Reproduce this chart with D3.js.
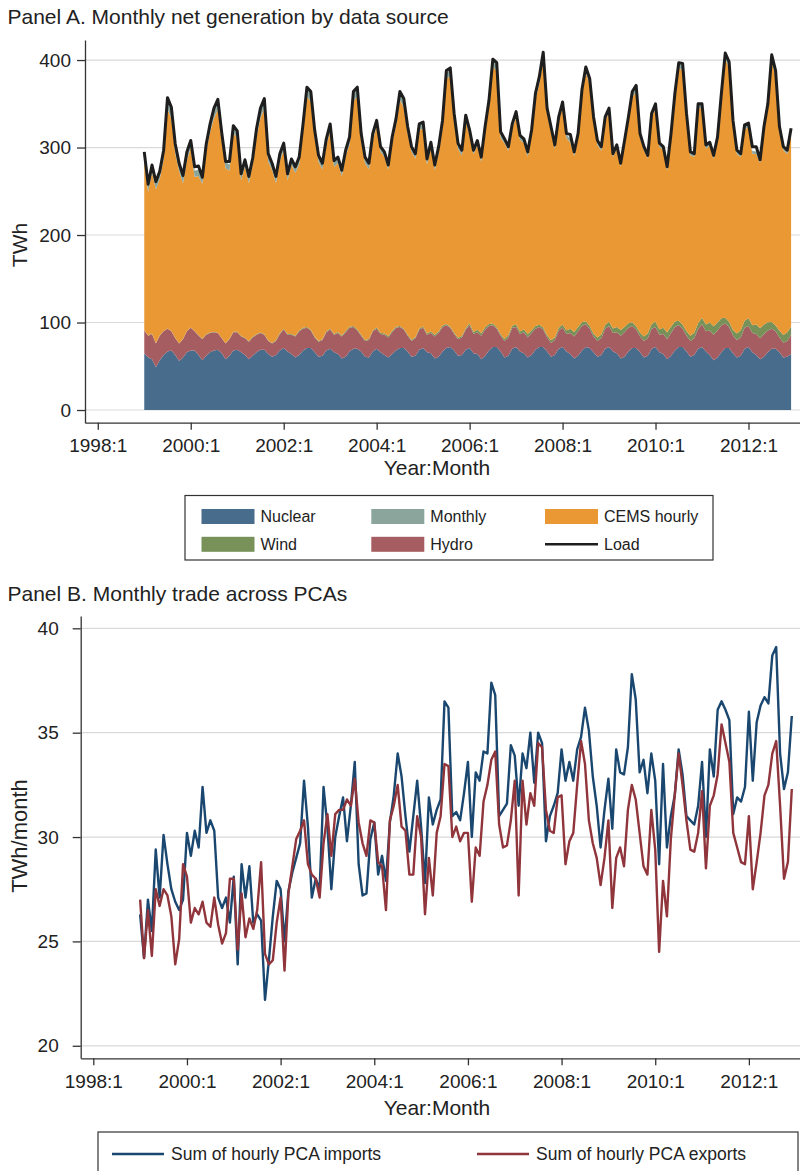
<!DOCTYPE html>
<html>
<head>
<meta charset="utf-8">
<script src="https://cdn.jsdelivr.net/npm/d3@7"></script>
<style>
  body { margin: 0; background: #fff; }
  svg text { font-family: "Liberation Sans", Arial, Helvetica, sans-serif; fill: #222; }
</style>
</head>
<body>
<svg id="chart" width="800" height="1171"></svg>
<script>
// Monthly values, 1999:1 .. 2012:12 (one row per year)
const years = [1999, 2000, 2001, 2002, 2003, 2004, 2005, 2006, 2007, 2008, 2009, 2010, 2011, 2012];

// Panel A (TWh)
const nuclear = [
  65,60,58,49,57,63,67,68,63,56,60,66,
  68,68,63,57,62,66,68,69,65,58,62,68,
  69,66,63,58,62,66,69,69,64,61,63,68,
  71,67,64,60,63,68,71,71,66,61,62,68,
  70,66,64,59,61,67,70,70,67,61,60,67,
  70,66,63,60,64,68,71,71,67,61,62,69,
  71,66,65,59,61,67,71,72,68,62,63,69,
  71,65,64,58,62,68,72,72,67,60,62,70,
  72,67,65,60,63,69,72,72,67,61,63,70,
  72,67,64,59,62,68,72,71,66,61,63,70,
  72,67,65,59,61,67,71,71,66,60,62,70,
  72,66,64,58,62,68,72,72,67,61,63,70,
  72,67,63,57,60,66,71,71,65,60,62,70,
  72,66,63,58,61,66,70,70,66,60,61,64
];
const hydro = [
  26,25,29,27,28,27,26,22,19,20,21,24,
  26,22,22,24,24,22,21,19,17,18,19,21,
  20,18,19,20,21,20,19,17,15,15,16,19,
  21,19,22,24,27,25,23,20,17,17,18,21,
  22,20,24,25,28,27,25,21,18,18,20,23,
  23,21,23,23,25,26,24,21,18,18,20,23,
  23,20,23,25,27,28,26,22,19,19,20,23,
  26,22,25,27,30,28,25,21,18,19,21,24,
  23,20,24,23,25,24,23,20,16,16,17,21,
  22,20,24,25,28,28,26,22,18,18,19,23,
  24,21,24,26,28,27,25,21,18,19,20,23,
  23,20,23,23,26,27,25,21,18,18,19,23,
  26,23,28,29,31,31,28,24,20,20,21,24,
  24,22,24,24,26,25,23,20,17,17,18,22
];
const wind = [
  0.3,0.3,0.4,0.4,0.4,0.4,0.3,0.3,0.3,0.3,0.3,0.3,
  0.4,0.4,0.5,0.5,0.5,0.5,0.4,0.4,0.4,0.4,0.4,0.4,
  0.5,0.5,0.6,0.6,0.6,0.6,0.5,0.5,0.5,0.5,0.6,0.6,
  0.8,0.8,0.9,1.0,1.0,0.9,0.8,0.7,0.7,0.8,0.9,0.9,
  1.0,1.0,1.2,1.3,1.2,1.1,0.9,0.9,0.9,1.0,1.1,1.0,
  1.2,1.2,1.4,1.5,1.4,1.3,1.1,1.0,1.0,1.2,1.3,1.2,
  1.5,1.5,1.8,1.9,1.8,1.7,1.3,1.2,1.3,1.5,1.6,1.5,
  2.2,2.2,2.6,2.8,2.6,2.4,1.9,1.7,1.9,2.2,2.4,2.3,
  2.8,2.8,3.3,3.6,3.3,3.0,2.4,2.2,2.4,2.8,3.0,2.9,
  3.8,4.0,4.8,5.2,4.8,4.2,3.4,3.0,3.3,3.9,4.3,4.2,
  5.0,5.1,6.0,6.4,6.0,5.3,4.2,3.8,4.2,5.0,5.4,5.2,
  5.9,6.0,7.1,7.6,7.1,6.3,5.0,4.5,5.0,5.9,6.4,6.2,
  7.5,7.7,9.0,9.8,9.1,8.0,6.4,5.7,6.4,7.5,8.2,8.0,
  8.8,9.0,10.6,11.4,10.6,9.4,7.5,6.7,7.5,8.8,9.6,9.4
];
const cems = [
  194,164,184,176,179,196,251,243,211,197,178,195,
  205,176,182,177,209,229,244,255,225,200,192,227,
  221,178,196,181,197,226,245,258,204,198,180,197,
  204,176,193,186,190,224,263,261,227,205,194,212,
  226,191,193,182,200,208,257,266,221,202,194,217,
  230,207,202,190,215,230,258,253,230,215,204,227,
  226,193,210,188,204,226,280,286,243,216,206,236,
  215,203,211,196,223,249,293,293,224,224,211,225,
  237,219,213,203,223,259,275,306,253,239,215,235,
  249,220,213,201,216,260,284,276,242,220,210,233,
  239,196,204,187,208,230,257,268,222,213,200,236,
  244,209,203,185,216,255,288,291,243,206,201,246,
  239,201,202,191,207,251,296,290,234,205,198,219,
  218,196,195,189,221,244,298,284,227,211,204,222
];
const monthly = [
  9,8,8,8,8,10,12,12,10,8,8,9,
  8,7,7,7,8,9,11,11,9,7,7,8,
  8,7,7,7,7,9,11,11,9,7,7,8,
  7,6,6,6,7,8,10,10,8,6,6,7,
  7,6,6,6,6,8,10,10,8,6,6,7,
  6,5,5,5,6,7,9,9,7,5,5,6,
  6,5,5,5,6,7,9,9,7,5,5,6,
  5,4,4,4,5,6,8,8,6,4,4,5,
  5,4,4,4,5,6,8,8,6,4,4,5,
  4,4,4,4,4,5,6,6,5,4,4,4,
  4,3,3,3,4,5,6,6,5,3,3,4,
  4,3,3,3,4,5,6,6,5,3,3,4,
  4,3,3,3,4,5,6,6,5,3,3,4,
  4,3,3,3,4,5,6,6,5,3,3,4
];
const load = [
  295,258,280,261,273,297,357,346,304,282,268,295,
  308,278,279,266,304,327,345,355,317,284,284,325,
  319,270,286,267,288,322,345,356,293,282,267,293,
  305,270,287,278,289,327,369,364,320,291,282,310,
  327,285,289,274,297,312,364,369,316,289,282,316,
  331,301,295,280,312,333,364,356,324,301,293,327,
  329,287,306,280,301,331,388,391,339,305,297,337,
  320,297,308,289,324,354,401,397,318,310,301,327,
  341,314,310,295,320,362,381,409,345,324,303,335,
  352,316,315,295,316,366,392,379,335,308,301,335,
  345,293,303,282,308,335,364,371,316,301,291,339,
  350,305,301,278,316,362,397,396,339,295,293,350,
  350,303,306,291,312,362,408,398,331,297,293,326,
  328,301,301,286,324,350,406,388,324,301,297,322
];

// Panel B (TWh/month)
const imports = [
  26.3,24.2,27.0,25.5,29.4,27.1,30.1,28.7,27.5,26.9,26.5,27.0,
  30.2,29.1,30.3,29.5,32.4,30.2,30.8,30.3,27.1,26.6,27.1,25.9,
  28.1,23.9,28.7,27.1,28.6,25.9,26.3,26.0,22.2,24.1,26.2,27.9,
  27.5,25.0,27.4,28.3,29.0,29.7,32.7,30.5,27.1,28.0,27.5,32.4,
  30.5,27.5,30.0,31.0,31.9,29.8,31.5,33.6,28.7,27.2,27.3,29.9,
  30.7,28.2,29.1,27.9,30.7,32.0,34.0,32.9,31.0,29.3,31.0,32.7,
  30.5,27.8,31.9,30.6,31.3,31.8,36.5,36.2,31.0,31.2,30.8,32.1,
  33.6,30.0,33.1,32.7,34.1,34.0,37.4,36.8,31.0,31.3,31.6,34.4,
  33.9,31.5,34.0,33.3,35.0,32.6,35.0,34.5,29.8,31.0,31.5,32.1,
  34.2,32.7,33.6,32.7,34.2,34.8,36.2,35.1,32.9,31.5,29.5,31.3,
  32.8,30.4,34.2,33.1,33.0,34.3,37.8,36.6,33.1,33.7,32.1,34.0,
  32.7,28.7,33.5,29.5,31.0,32.0,34.2,33.0,31.0,30.8,30.6,31.5,
  33.6,30.0,34.2,32.9,36.1,36.5,36.1,35.6,31.1,31.9,31.7,32.4,
  36.0,32.7,35.5,36.3,36.7,36.4,38.7,39.1,34.0,32.3,33.1,35.8
];
const exports = [
  27.0,24.2,26.5,24.3,27.5,26.7,27.5,27.2,26.2,23.9,25.1,28.7,
  28.1,25.9,26.6,26.3,26.9,25.9,25.7,27.1,25.8,24.9,25.4,28.0,
  28.0,24.6,27.3,25.2,26.1,25.6,26.5,28.8,24.4,23.9,24.1,25.9,
  27.1,23.6,27.3,28.6,29.9,30.3,30.8,28.7,28.2,28.0,27.1,29.7,
  31.1,29.1,31.1,31.3,31.3,31.8,31.5,32.8,30.7,29.7,29.1,30.8,
  30.7,28.8,28.6,26.5,30.8,31.5,32.5,30.5,30.3,28.2,28.2,31.0,
  30.0,26.3,29.0,27.2,30.2,31.0,33.5,33.4,30.0,30.5,29.8,30.2,
  30.2,26.9,29.5,29.1,31.7,32.5,33.7,34.1,30.6,29.5,29.6,30.8,
  32.7,27.2,32.7,30.6,32.1,31.5,34.5,34.3,31.3,30.3,30.2,31.9,
  32.0,28.7,29.8,30.2,32.5,34.6,33.5,30.8,29.7,29.0,27.7,29.0,
  30.8,26.6,29.0,29.5,28.6,31.3,32.5,31.8,30.2,28.6,28.2,31.3,
  29.4,24.5,27.9,26.2,29.9,32.0,34.0,32.5,30.8,29.4,29.3,30.2,
  32.2,28.5,31.5,32.0,33.0,35.4,34.5,33.6,30.2,29.5,28.8,28.7,
  31.0,27.5,28.8,30.2,32.0,32.5,34.0,34.6,31.5,28.0,28.8,32.3
];

// Axis ticks
const xTickYears = [1998, 2000, 2002, 2004, 2006, 2008, 2010, 2012];
const yTicksA = [0, 100, 200, 300, 400];
const yTicksB = [20, 25, 30, 35, 40];

// Colours (Stata s2color at 80% intensity for the areas)
const colors = {
  nuclear: "#486c8c", monthly: "#8ba59d", cems: "#e99833",
  wind: "#779159", hydro: "#a65d62", load: "#1e1e1e",
  imports: "#1a476f", exports: "#90353b"
};

// month index counted from 1998:1
const tIndex = (year, month) => (year - 1998) * 12 + (month - 1);

const rows = [];
years.forEach((yr, yi) => {
  for (let m = 1; m <= 12; m++) {
    const i = yi * 12 + m - 1;
    rows.push({
      t: tIndex(yr, m),
      nuclear: nuclear[i], hydro: hydro[i], wind: wind[i],
      cems: cems[i], monthly: monthly[i], load: load[i],
      imports: imports[i], exports: exports[i]
    });
  }
});

const svg = d3.select("#chart");
const gridColor = "#d9d9d9";
const axisColor = "#333";

function drawXAxis(g, x, yPos) {
  const ax = g.append("g")
    .attr("transform", `translate(0,${yPos})`)
    .call(d3.axisBottom(x)
      .tickValues(xTickYears.map(y => tIndex(y, 1)))
      .tickFormat(t => `${1998 + t / 12}:1`)
      .tickSize(7).tickSizeOuter(0).tickPadding(9));
  ax.select(".domain").attr("stroke", axisColor).attr("stroke-width", 1.3);
  ax.selectAll(".tick line").attr("stroke", axisColor).attr("stroke-width", 1.3);
  ax.selectAll("text").style("font-size", "19px").attr("fill", "#222");
}

function drawYAxis(g, y, xPos, ticks, pad) {
  const ay = g.append("g")
    .attr("transform", `translate(${xPos},0)`)
    .call(d3.axisLeft(y).tickValues(ticks).tickSize(8).tickSizeOuter(0).tickPadding(pad));
  ay.select(".domain").attr("stroke", axisColor).attr("stroke-width", 1.3);
  ay.selectAll(".tick line").attr("stroke", axisColor).attr("stroke-width", 1.3);
  ay.selectAll("text").style("font-size", "19px").attr("fill", "#222");
}

// ---------------- Panel A ----------------
const xA = d3.scaleLinear().domain([-3.3, 181.3]).range([85, 800]);
const yA = d3.scaleLinear().domain([-14.5, 422.9]).range([422.7, 40]);

svg.append("text").attr("x", 7.5).attr("y", 24)
  .style("font-size", "21px").text("Panel A. Monthly net generation by data source");

const gA = svg.append("g");
gA.selectAll(".gridA").data(yTicksA).enter().append("line")
  .attr("x1", 85).attr("x2", 800)
  .attr("y1", d => yA(d)).attr("y2", d => yA(d))
  .attr("stroke", gridColor).attr("stroke-width", 1.2);

const keys = ["nuclear", "hydro", "wind", "cems", "monthly"];
const stacked = d3.stack().keys(keys)(rows);
const area = d3.area()
  .x(d => xA(d.data.t))
  .y0(d => yA(d[0]))
  .y1(d => yA(d[1]));

gA.selectAll(".layer").data(stacked).enter().append("path")
  .attr("d", area)
  .attr("fill", d => colors[d.key]);

gA.append("path").datum(rows)
  .attr("fill", "none")
  .attr("stroke", colors.load)
  .attr("stroke-width", 3)
  .attr("stroke-linejoin", "round")
  .attr("d", d3.line().x(d => xA(d.t)).y(d => yA(d.load)));

drawYAxis(gA, yA, 85, yTicksA, 6);
drawXAxis(gA, xA, 422.7);

svg.append("text").attr("transform", "translate(26.5,245) rotate(-90)")
  .attr("text-anchor", "middle").style("font-size", "21px").text("TWh");
svg.append("text").attr("x", 437).attr("y", 475)
  .attr("text-anchor", "middle").style("font-size", "21px").text("Year:Month");

// legend A
const legA = svg.append("g");
legA.append("rect").attr("x", 185).attr("y", 495.5).attr("width", 528).attr("height", 64.5)
  .attr("fill", "#fff").attr("stroke", axisColor).attr("stroke-width", 1.2);
const legItemsA = [
  { key: "nuclear", label: "Nuclear", col: 0, row: 0 },
  { key: "monthly", label: "Monthly", col: 1, row: 0 },
  { key: "cems", label: "CEMS hourly", col: 2, row: 0 },
  { key: "wind", label: "Wind", col: 0, row: 1 },
  { key: "hydro", label: "Hydro", col: 1, row: 1 },
  { key: "load", label: "Load", col: 2, row: 1 }
];
const colX = [201.5, 371.3, 545];
const rowY = [516.5, 544.3];
legItemsA.forEach(it => {
  const x0 = colX[it.col], yc = rowY[it.row];
  if (it.key === "load") {
    legA.append("line").attr("x1", x0).attr("x2", x0 + 53).attr("y1", yc).attr("y2", yc)
      .attr("stroke", colors.load).attr("stroke-width", 2.5);
  } else {
    legA.append("rect").attr("x", x0).attr("y", yc - 7.5).attr("width", 53).attr("height", 15)
      .attr("fill", colors[it.key]);
  }
  legA.append("text").attr("x", x0 + 59).attr("y", yc + 5.7)
    .style("font-size", "16px").text(it.label);
});

// ---------------- Panel B ----------------
const xB = d3.scaleLinear().domain([-3.23, 181.1]).range([80.7, 800]);
const yB = d3.scaleLinear().domain([19.4, 40.59]).range([1058.3, 616]);

svg.append("text").attr("x", 7.5).attr("y", 600.7)
  .style("font-size", "21px").text("Panel B. Monthly trade across PCAs");

const gB = svg.append("g");
gB.selectAll(".gridB").data(yTicksB).enter().append("line")
  .attr("x1", 80.7).attr("x2", 800)
  .attr("y1", d => yB(d)).attr("y2", d => yB(d))
  .attr("stroke", gridColor).attr("stroke-width", 1.2);

["imports", "exports"].forEach(k => {
  gB.append("path").datum(rows)
    .attr("fill", "none")
    .attr("stroke", colors[k])
    .attr("stroke-width", 2.4)
    .attr("stroke-linejoin", "round")
    .attr("d", d3.line().x(d => xB(d.t)).y(d => yB(d[k])));
});

drawYAxis(gB, yB, 80.7, yTicksB, 14);
drawXAxis(gB, xB, 1058.3);

svg.append("text").attr("transform", "translate(26.5,836) rotate(-90)")
  .attr("text-anchor", "middle").style("font-size", "22px").text("TWh/month");
svg.append("text").attr("x", 437).attr("y", 1115)
  .attr("text-anchor", "middle").style("font-size", "21px").text("Year:Month");

// legend B
const legB = svg.append("g");
legB.append("rect").attr("x", 98).attr("y", 1132).attr("width", 700).attr("height", 60)
  .attr("fill", "#fff").attr("stroke", axisColor).attr("stroke-width", 1.2);
[
  { key: "imports", label: "Sum of hourly PCA imports", x: 112 },
  { key: "exports", label: "Sum of hourly PCA exports", x: 477 }
].forEach(it => {
  legB.append("line").attr("x1", it.x).attr("x2", it.x + 52).attr("y1", 1154).attr("y2", 1154)
    .attr("stroke", colors[it.key]).attr("stroke-width", 2.5);
  legB.append("text").attr("x", it.x + 59).attr("y", 1160)
    .style("font-size", "17.5px").text(it.label);
});
</script>
</body>
</html>
